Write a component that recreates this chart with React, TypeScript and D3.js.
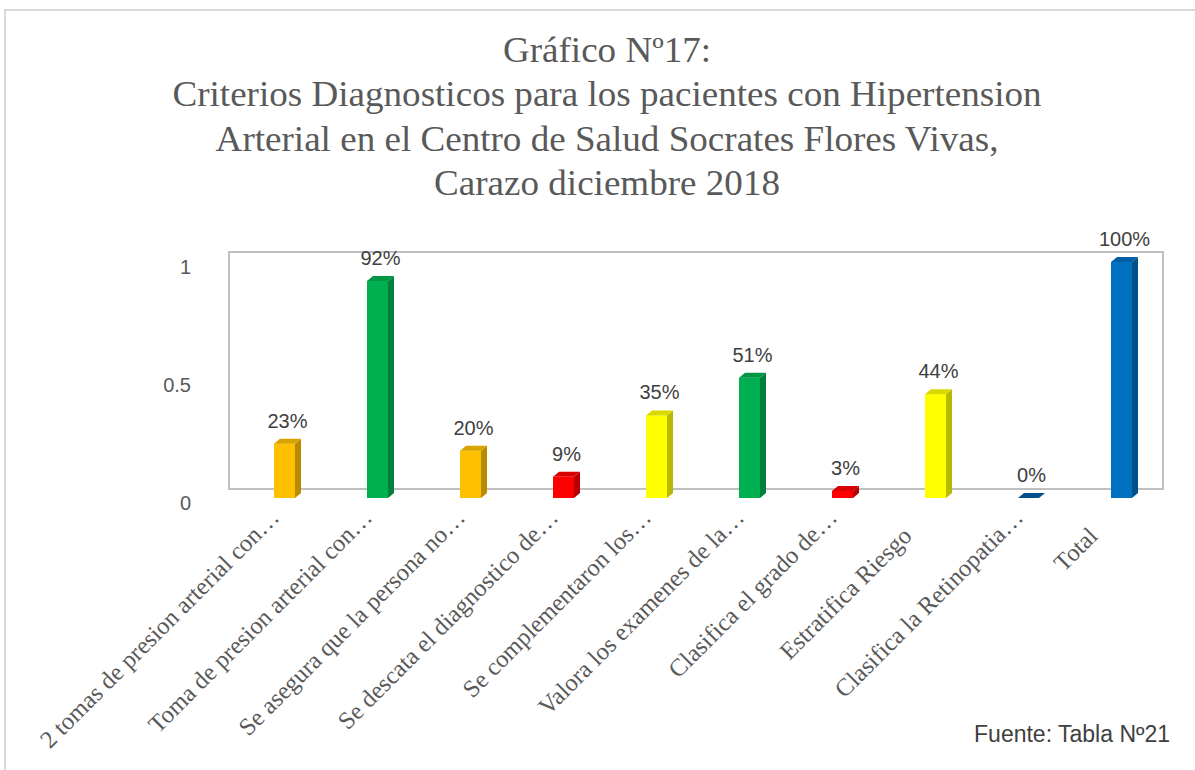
import React from "react";
import * as d3 from "d3";

const categories = [
  "2 tomas de presion arterial con…",
  "Toma de presion arterial con…",
  "Se asegura que la persona no…",
  "Se descata el diagnostico de…",
  "Se complementaron los…",
  "Valora los examenes de la…",
  "Clasifica el grado de…",
  "Estratifica Riesgo",
  "Clasifica la Retinopatia…",
  "Total",
];
const values = [0.23, 0.92, 0.2, 0.09, 0.35, 0.51, 0.03, 0.44, 0.0, 1.0];
const barColors = [
  "#FFC000", "#00B050", "#FFC000", "#FF0000", "#FFFF00",
  "#00B050", "#FF0000", "#FFFF00", "#0070C0", "#0070C0",
];
const yTicks = [0, 0.5, 1];
const titleLines = [
  "Gráfico Nº17:",
  "Criterios Diagnosticos para los pacientes con Hipertension",
  "Arterial en el Centro de Salud Socrates Flores Vivas,",
  "Carazo diciembre 2018",
];
const sourceText = "Fuente: Tabla Nº21";

const W = 1195;
const H = 770;
const sansFont = '"Liberation Sans", Arial, sans-serif';
const serifFont = '"Liberation Serif", "Times New Roman", serif';

export default function App() {
  const x = d3
    .scaleBand<number>()
    .domain(values.map((d, i) => i))
    .range([238, 1168])
    .paddingInner(0)
    .paddingOuter(0);
  const y = d3.scaleLinear().domain([0, 1]).range([498, 262]);

  const depthX = 6;
  const depthY = 5;
  const barW = 21;
  const base = y(0);

  return (
    <svg
      width={W}
      height={H}
      style={{ position: "absolute", left: 0, top: 0, background: "#fff" }}
    >
      {/* chart border */}
      <rect x={5} y={10} width={W + 20} height={H + 20} fill="#fff" stroke="#D9D9D9" strokeWidth={2} />

      {/* title, slightly stretched like the original */}
      <g
        fill="#595959"
        fontFamily={serifFont}
        fontSize={35}
        textAnchor="middle"
        transform="translate(607,0) scale(1.06,1)"
      >
        {titleLines.map((t, i) => (
          <text key={i} x={0} y={62 + i * 44.5}>
            {t}
          </text>
        ))}
      </g>

      {/* back wall */}
      <path
        d={`M229,252 L1163,252 L1163,489 L229,489 Z`}
        fill="none"
        stroke="#BFBFBF"
        strokeWidth={2}
      />

      {/* y axis labels */}
      <g fill="#595959" fontFamily={sansFont} fontSize={20} textAnchor="end">
        {yTicks.map((t) => (
          <text key={t} x={191} y={y(t) + 7} dominantBaseline="middle">
            {t}
          </text>
        ))}
      </g>

      {/* bars */}
      {values.map((v, i) => {
        const cx = x(i)! + x.bandwidth() / 2;
        const x0 = cx - barW / 2;
        const x1 = x0 + barW;
        const top = y(v);
        const c = d3.color(barColors[i])!;
        const side = c.darker(0.9).formatHex();
        const topC = c.darker(0.45).formatHex();
        return (
          <g key={i}>
            {v > 0 && <rect x={x0} y={top} width={barW} height={base - top} fill={barColors[i]} />}
            <path
              d={`M${x1},${top} L${x1 + depthX},${top - depthY} L${x1 + depthX},${base - depthY} L${x1},${base} Z`}
              fill={side}
            />
            <path
              d={`M${x0},${top} L${x0 + depthX},${top - depthY} L${x1 + depthX},${top - depthY} L${x1},${top} Z`}
              fill={v > 0 ? topC : side}
            />
          </g>
        );
      })}

      {/* data labels */}
      <g fill="#404040" fontFamily={sansFont} fontSize={20} textAnchor="middle">
        {values.map((v, i) => (
          <text key={i} x={x(i)! + x.bandwidth() / 2 + 3} y={y(v) - 16}>
            {d3.format(".0%")(v)}
          </text>
        ))}
      </g>

      {/* category labels */}
      <g fill="#595959" fontFamily={serifFont} fontSize={24.5} textAnchor="end">
        {categories.map((c, i) => {
          const cx = x(i)! + x.bandwidth() / 2 - 4;
          const shift = c.endsWith("…") ? 0 : -26;
          return (
            <text key={i} x={shift} transform={`translate(${cx},${519}) rotate(-45)`}>
              {c}
            </text>
          );
        })}
      </g>

      {/* source */}
      <text x={1170} y={742} textAnchor="end" fill="#404040" fontFamily={sansFont} fontSize={23}>
        {sourceText}
      </text>
    </svg>
  );
}
